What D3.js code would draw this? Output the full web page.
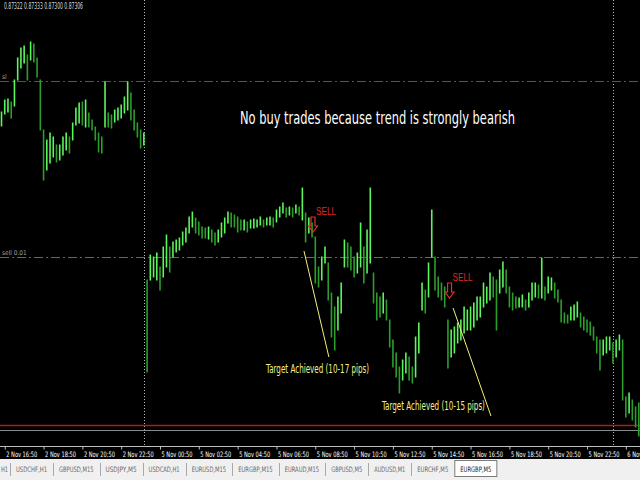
<!DOCTYPE html>
<html><head><meta charset="utf-8">
<script src="https://cdn.jsdelivr.net/npm/d3@7"></script>
<style>html,body{margin:0;padding:0;background:#000;overflow:hidden}</style>
</head><body>
<svg id="c" width="640" height="480"></svg>
<script>
// ---- data (EURGBP M5, shown as 10-minute high/low bars) ----
const highs = [0.87624,0.87636,0.87637,0.87634,0.87656,0.87678,0.87688,0.87690,0.87681,0.87694,
0.87692,0.87678,0.87656,0.87606,0.87596,0.87603,0.87599,0.87591,0.87591,0.87599,
0.87603,0.87599,0.87613,0.87628,0.87633,0.87634,0.87636,0.87623,0.87616,0.87609,
0.87603,0.87599,0.87654,0.87623,0.87621,0.87626,0.87628,0.87631,0.87639,0.87654,
0.87643,0.87626,0.87613,0.87606,0.87603,0.87456,0.87481,0.87479,0.87483,0.87469,
0.87489,0.87501,0.87489,0.87494,0.87496,0.87498,0.87504,0.87508,0.87519,0.87524,
0.87518,0.87514,0.87509,0.87508,0.87509,0.87506,0.87503,0.87506,0.87513,0.87518,
0.87524,0.87523,0.87521,0.87519,0.87516,0.87516,0.87514,0.87516,0.87517,0.87516,
0.87519,0.87516,0.87518,0.87519,0.87518,0.87526,0.87529,0.87533,0.87528,0.87529,
0.87528,0.87531,0.87529,0.87548,0.87523,0.87518,0.87513,0.87499,0.87469,0.87479,
0.87489,0.87473,0.87443,0.87429,0.87439,0.87453,0.87496,0.87493,0.87489,0.87479,
0.87483,0.87513,0.87489,0.87506,0.87548,0.87463,0.87443,0.87439,0.87443,0.87436,
0.87416,0.87396,0.87383,0.87369,0.87376,0.87383,0.87379,0.87369,0.87399,0.87413,
0.87453,0.87446,0.87473,0.87526,0.87479,0.87459,0.87453,0.87449,0.87416,0.87406,
0.87409,0.87413,0.87416,0.87429,0.87426,0.87429,0.87433,0.87439,0.87439,0.87453,
0.87449,0.87463,0.87459,0.87456,0.87466,0.87474,0.87466,0.87449,0.87443,0.87439,
0.87438,0.87441,0.87436,0.87443,0.87453,0.87453,0.87451,0.87478,0.87449,0.87459,
0.87458,0.87453,0.87446,0.87436,0.87423,0.87421,0.87429,0.87431,0.87434,0.87423,
0.87419,0.87416,0.87414,0.87409,0.87399,0.87396,0.87396,0.87399,0.87399,0.87393,
0.87396,0.87401,0.87396,0.87339,0.87343,0.87336,0.87329,0.87333];
const lows = [0.87610,0.87622,0.87624,0.87618,0.87630,0.87656,0.87668,0.87673,0.87656,0.87676,
0.87674,0.87659,0.87606,0.87556,0.87566,0.87573,0.87579,0.87574,0.87576,0.87581,
0.87586,0.87583,0.87596,0.87611,0.87613,0.87611,0.87609,0.87609,0.87606,0.87596,
0.87584,0.87583,0.87609,0.87609,0.87608,0.87614,0.87616,0.87618,0.87623,0.87626,
0.87616,0.87606,0.87599,0.87588,0.87591,0.87364,0.87456,0.87459,0.87456,0.87446,
0.87459,0.87469,0.87464,0.87479,0.87484,0.87486,0.87491,0.87494,0.87503,0.87509,
0.87503,0.87501,0.87498,0.87498,0.87497,0.87494,0.87491,0.87494,0.87499,0.87503,
0.87513,0.87509,0.87509,0.87504,0.87506,0.87506,0.87504,0.87508,0.87508,0.87509,
0.87511,0.87509,0.87511,0.87511,0.87509,0.87514,0.87519,0.87523,0.87519,0.87521,
0.87519,0.87523,0.87521,0.87516,0.87494,0.87503,0.87499,0.87453,0.87449,0.87456,
0.87473,0.87436,0.87399,0.87386,0.87406,0.87423,0.87469,0.87469,0.87466,0.87459,
0.87463,0.87469,0.87453,0.87463,0.87473,0.87433,0.87416,0.87419,0.87423,0.87416,
0.87389,0.87369,0.87359,0.87343,0.87356,0.87363,0.87356,0.87353,0.87359,0.87383,
0.87426,0.87423,0.87439,0.87479,0.87446,0.87439,0.87436,0.87429,0.87368,0.87379,
0.87383,0.87393,0.87396,0.87403,0.87406,0.87406,0.87409,0.87416,0.87419,0.87429,
0.87433,0.87436,0.87439,0.87406,0.87443,0.87449,0.87443,0.87429,0.87426,0.87428,
0.87429,0.87429,0.87426,0.87429,0.87436,0.87439,0.87438,0.87438,0.87436,0.87443,
0.87446,0.87438,0.87434,0.87414,0.87413,0.87413,0.87416,0.87416,0.87419,0.87409,
0.87406,0.87404,0.87401,0.87396,0.87383,0.87366,0.87381,0.87383,0.87386,0.87373,
0.87379,0.87386,0.87336,0.87319,0.87323,0.87316,0.87309,0.87300];
const timeLabels = ["2 Nov 16:50","2 Nov 18:50","2 Nov 20:50","2 Nov 22:50","5 Nov 00:50","5 Nov 02:50",
"5 Nov 04:50","5 Nov 06:50","5 Nov 08:50","5 Nov 10:50","5 Nov 12:50","5 Nov 14:50","5 Nov 16:50",
"5 Nov 18:50","5 Nov 20:50","5 Nov 22:50","6 Nov 00:50"];
const timeLabelBars = [1,13,25,37,49,61,73,85,97,109,121,133,145,157,169,181,193];
const daySeparatorBars = [44,189];
const headerOHLC = ["0.87322","0.87333","0.87300","0.87306"];
const levelPrices = [0.87655,0.87479,0.87311,0.87306];
const levelNames = ["sl","sell 0.01","",""];
const sellBars = [96.3,138.5];
const sellPrices = [0.87519,0.87453];
const targetStartBars = [93.5,139.6], targetStartPrices = [0.87485,0.87428];
const targetEndBars = [101.2,151.3], targetEndPrices = [0.87379,0.87320];
const targetTexts = ["Target Achieved (10-17 pips)","Target Achieved (10-15 pips)"];
const targetTextBars = [81.8,117.6], targetTextPrices = [0.87363,0.87326];
const titleText = "No buy trades because trend is strongly bearish";
const tabs = ["H1","USDCHF,H1","GBPUSD,M15","USDJPY,M5","USDCAD,H1","EURUSD,M15","EURGBP,M15",
"EURAUD,M15","GBPUSD,M5","AUDUSD,M1","EURCHF,M5","EURGBP,M5"];
const activeTab = "EURGBP,M5";

// ---- drawing ----
const W=640,H=480,plotBottom=446;
const svg=d3.select("#c");
const narrow='"Liberation Sans Narrow","Arial Narrow","DejaVu Sans Condensed",sans-serif';
svg.append("rect").attr("width",W).attr("height",H).attr("fill","#000");

const x=d3.scaleLinear().domain([0,1]).range([1.5,1.5+3.235]);
const y=d3.scaleLinear().domain([0.87736,0.87300]).range([0,436]);

const plot=svg.append("g");
// day separators
plot.selectAll("line.sep").data(daySeparatorBars).join("line")
  .attr("x1",d=>Math.round(x(d))+0.5).attr("x2",d=>Math.round(x(d))+0.5)
  .attr("y1",0).attr("y2",plotBottom)
  .attr("stroke","#b8b8b8").attr("stroke-width",1).attr("stroke-dasharray","1,2");

// horizontal levels
const levelStyle=[{c:"#a83232",d:"9,3,2,3",w:1},{c:"#4d7a4d",d:"9,3,2,3",w:1},{c:"#a81e1e",d:null,w:1.3},{c:"#8c8c8c",d:null,w:1}];
plot.selectAll("line.lvl").data(levelPrices).join("line")
  .attr("x1",0).attr("x2",W)
  .attr("y1",d=>Math.round(y(d))+0.5).attr("y2",d=>Math.round(y(d))+0.5)
  .attr("stroke",(d,i)=>levelStyle[i].c).attr("stroke-width",(d,i)=>levelStyle[i].w)
  .attr("stroke-dasharray",(d,i)=>levelStyle[i].d);
plot.selectAll("text.lvl").data(levelPrices.filter((d,i)=>levelNames[i])).join("text")
  .attr("x",2).attr("y",d=>y(d)-2)
  .attr("font-family",narrow).attr("font-size",6.5).attr("fill","#a0a0a0")
  .text((d,i)=>levelNames[i]);

// bars
const mids=highs.map((h,i)=>(h+lows[i])/2);
plot.selectAll("line.bar").data(highs).join("line")
  .attr("x1",(d,i)=>x(i)).attr("x2",(d,i)=>x(i))
  .attr("y1",d=>y(d)-0.5).attr("y2",(d,i)=>y(lows[i])+0.5)
  .attr("stroke",(d,i)=> (i===0||mids[i]>=mids[i-1])?"#5cf55c":"#2b9e2b")
  .attr("stroke-width",1.6);

// target lines
plot.selectAll("line.tgt").data(targetStartBars).join("line")
  .attr("x1",d=>x(d)).attr("y1",(d,i)=>y(targetStartPrices[i]))
  .attr("x2",(d,i)=>x(targetEndBars[i])).attr("y2",(d,i)=>y(targetEndPrices[i]))
  .attr("stroke","#f2f27a").attr("stroke-width",1);
plot.selectAll("text.tgt").data(targetTexts).join("text")
  .attr("x",(d,i)=>x(targetTextBars[i])).attr("y",(d,i)=>y(targetTextPrices[i]))
  .attr("font-family",narrow).attr("font-size",12).attr("fill","#f0f08a")
  .attr("textLength",103).attr("lengthAdjust","spacingAndGlyphs").text(d=>d);

// sell arrows and labels
sellBars.forEach((b,i)=>{
  const cx=x(b), top=y(sellPrices[i]);
  const p=`M${cx-2},${top} L${cx+2},${top} L${cx+2},${top+9} L${cx+4.5},${top+9} L${cx},${top+15} L${cx-4.5},${top+9} L${cx-2},${top+9} Z`;
  plot.append("path").attr("d",p).attr("fill","none").attr("stroke","#e03030").attr("stroke-width",1.2);
  plot.append("text").attr("x",cx+3).attr("y",top-2)
    .attr("font-family",'"Liberation Sans",Arial,sans-serif').attr("font-size",10.5)
    .attr("fill","#e02828").attr("textLength",20).attr("lengthAdjust","spacingAndGlyphs").text("SELL");
});

// title label
svg.append("text").attr("x",240).attr("y",124)
  .attr("font-family",narrow).attr("font-size",17).attr("fill","#ffffff")
  .attr("textLength",275).attr("lengthAdjust","spacingAndGlyphs").text(titleText);

// header OHLC
svg.append("text").attr("x",4).attr("y",9).attr("font-family",narrow).attr("font-size",8).attr("fill","#d8d8d8")
  .attr("textLength",79).attr("lengthAdjust","spacingAndGlyphs").text(headerOHLC.join(" "));

// time axis
svg.append("line").attr("x1",0).attr("x2",W).attr("y1",plotBottom+0.5).attr("y2",plotBottom+0.5).attr("stroke","#bfbfbf");
const axis=d3.axisBottom(x).tickValues(timeLabelBars).tickFormat((d,i)=>timeLabels[i]).tickSize(3).tickPadding(2);
const ax=svg.append("g").attr("transform",`translate(0,${plotBottom+0.5})`).call(axis);
ax.select(".domain").remove();
ax.selectAll(".tick line").attr("stroke","#bfbfbf");
ax.selectAll(".tick text").attr("text-anchor","start").attr("dx",1).attr("dy",0).attr("y",10)
  .attr("font-family",narrow).attr("font-size",7.5).attr("fill","#ffffff")
  .attr("textLength",31).attr("lengthAdjust","spacingAndGlyphs");

// tab bar
const tb=svg.append("g");
tb.append("rect").attr("x",0).attr("y",459).attr("width",W).attr("height",21).attr("fill","#f0f0f0");
let cur=-2;
tabs.forEach((t,i)=>{
  const tw=t.length*3.45, w=(i===0?12:tw+12);
  const isA=t===activeTab;
  if(isA){
    tb.append("rect").attr("x",cur+0.5).attr("y",460.5).attr("width",w-1).attr("height",16)
      .attr("fill","#ffffff").attr("stroke","#7a7a7a");
  }
  tb.append("text").attr("x",i===0?1:cur+6).attr("y",472)
    .attr("font-family",narrow).attr("font-size",7.5).attr("fill",isA?"#202020":"#6a6a6a")
    .attr("textLength",i===0?7:tw).attr("lengthAdjust","spacingAndGlyphs").text(t);
  cur+=w;
  if(!isA && tabs[i+1]!==activeTab){
    tb.append("line").attr("x1",Math.round(cur)+0.5).attr("x2",Math.round(cur)+0.5)
      .attr("y1",463).attr("y2",476).attr("stroke","#a8a8a8");
  }
});
</script>
</body></html>
